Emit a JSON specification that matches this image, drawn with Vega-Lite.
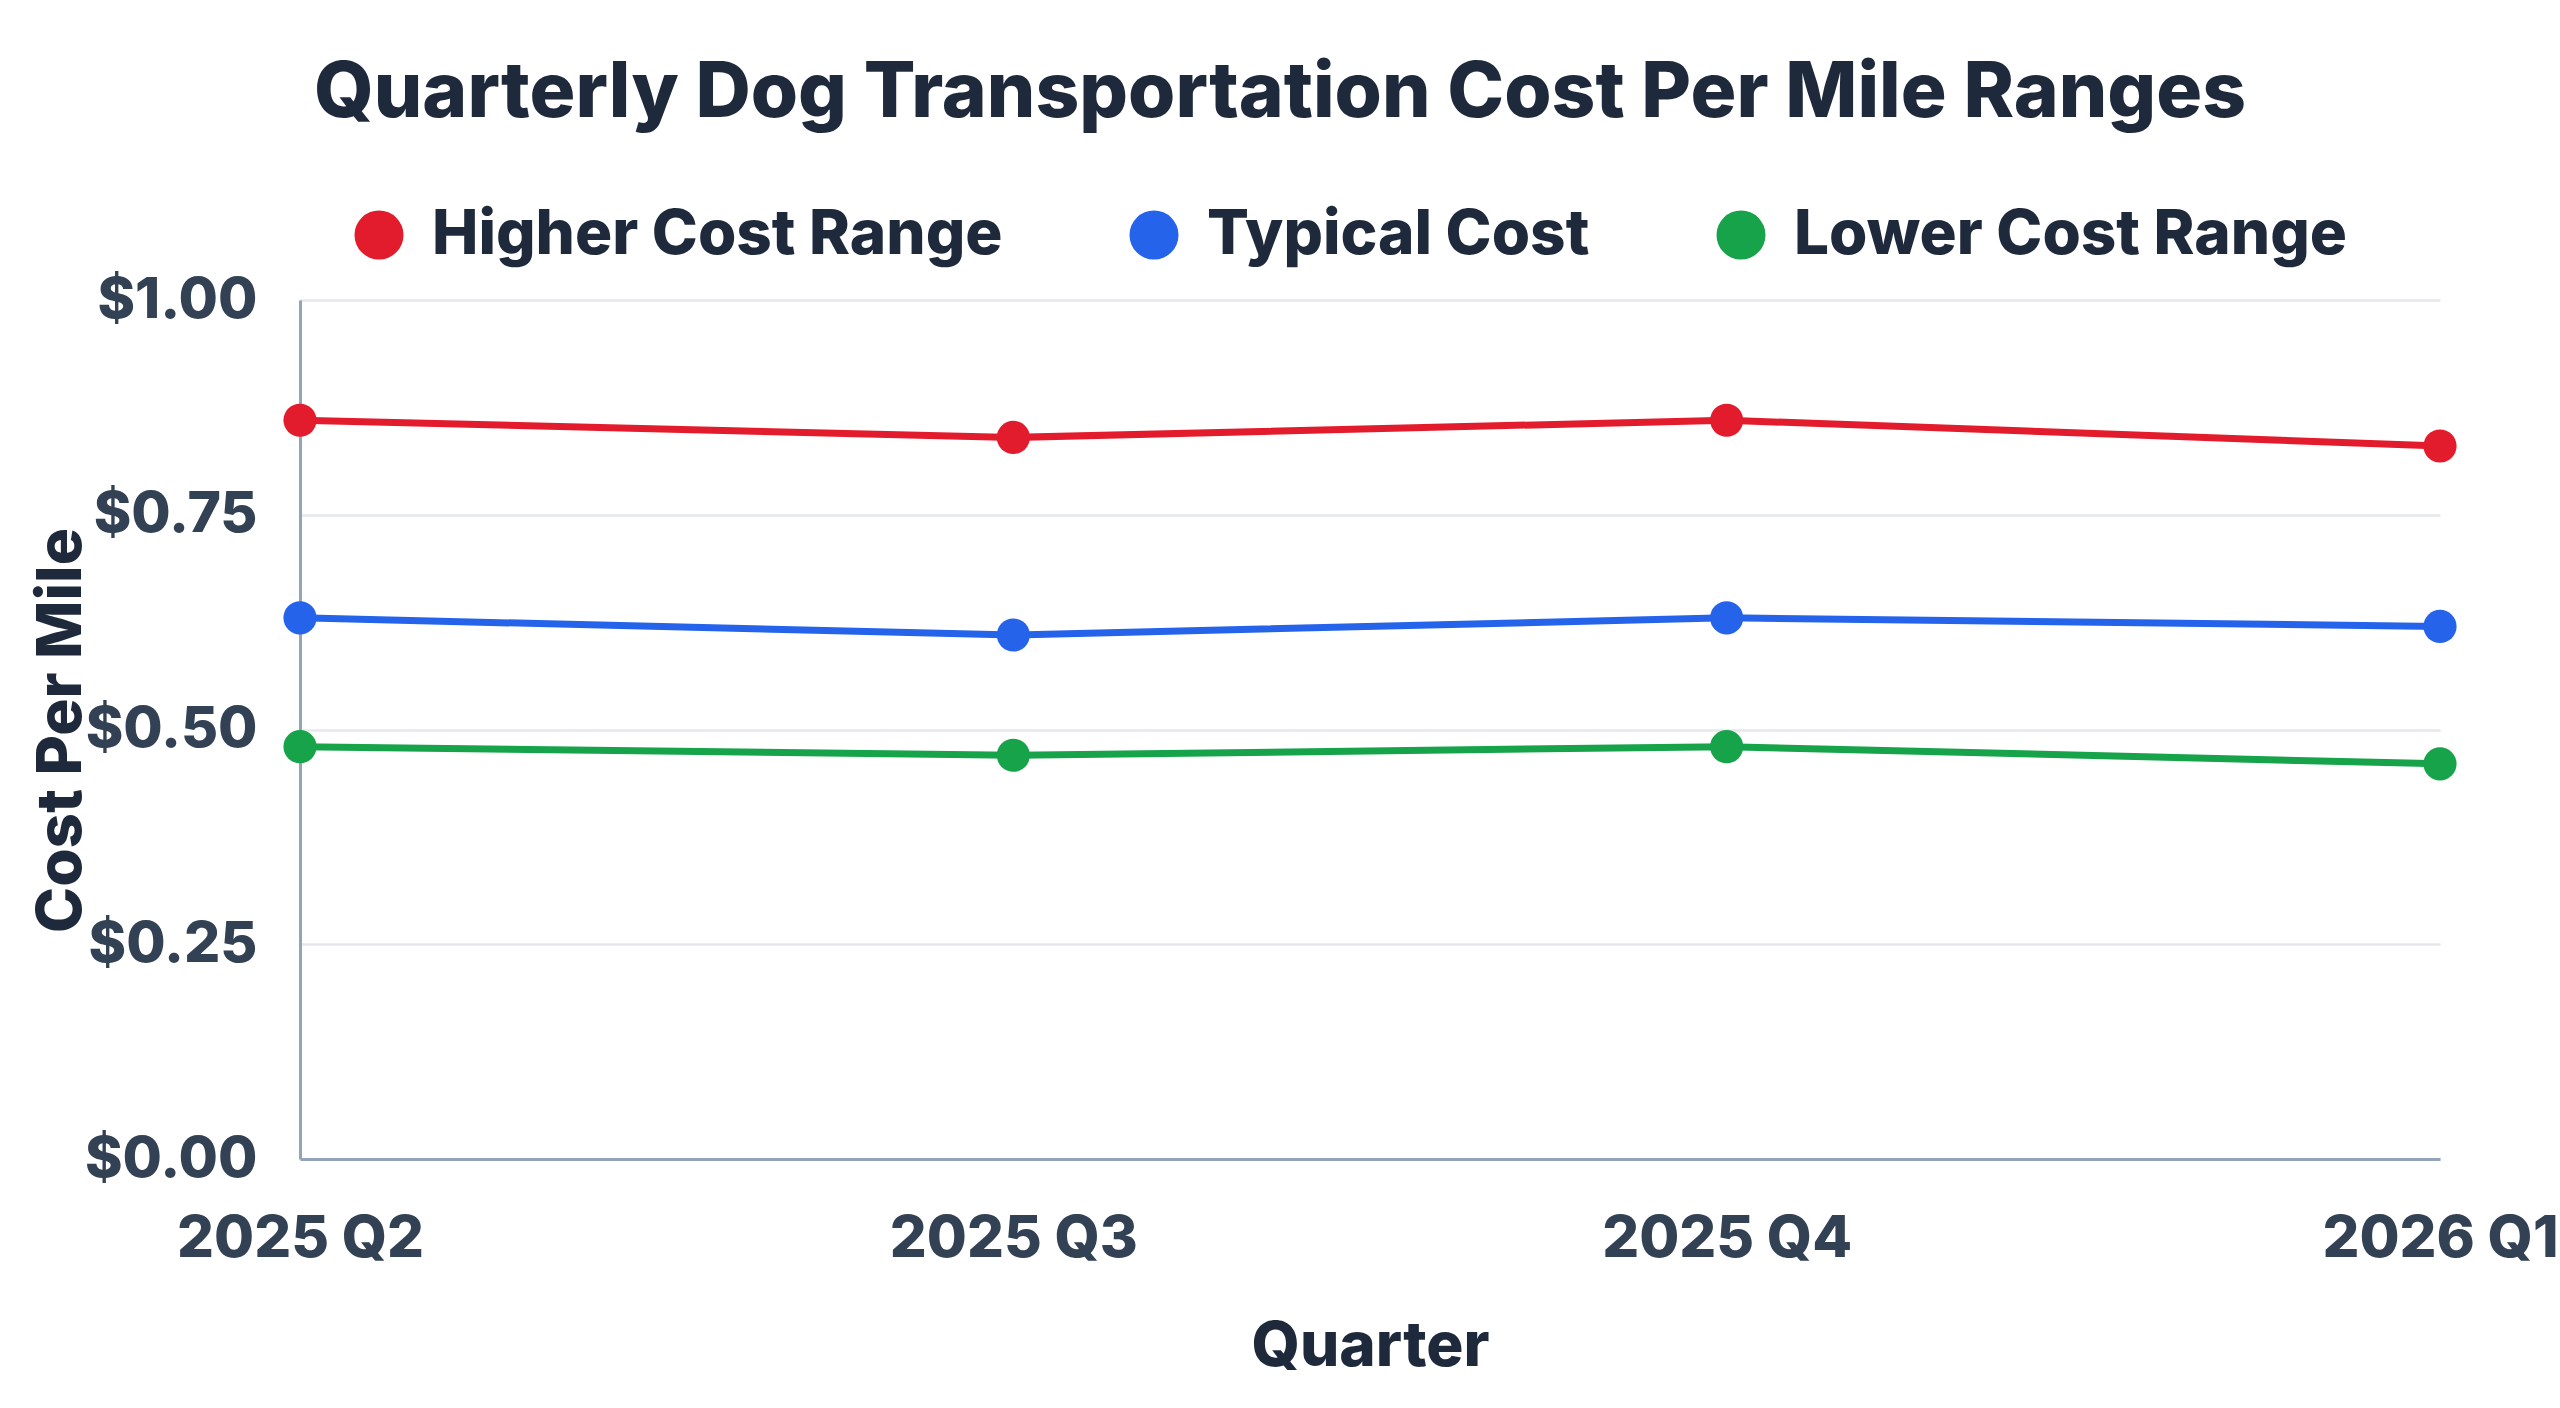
{
  "$schema": "https://vega.github.io/schema/vega-lite/v6.json",
  "width": 2140,
  "height": 859,
  "autosize": {"type": "none"},
  "padding": {"left": 300, "top": 300, "right": 120, "bottom": 249},
  "background": "white",
  "title": {
    "text": "Quarterly Dog Transportation Cost Per Mile Ranges",
    "font": "Inter",
    "fontSize": 76.5,
    "fontWeight": 800,
    "color": "#1e293b",
    "anchor": "middle",
    "dx": -90,
    "offset": 71
  },
  "data": {
    "values": [
      {"quarter": "2025 Q2", "series": "Higher Cost Range", "cost": 0.86},
      {"quarter": "2025 Q3", "series": "Higher Cost Range", "cost": 0.84},
      {"quarter": "2025 Q4", "series": "Higher Cost Range", "cost": 0.86},
      {"quarter": "2026 Q1", "series": "Higher Cost Range", "cost": 0.83},
      {"quarter": "2025 Q2", "series": "Typical Cost", "cost": 0.63},
      {"quarter": "2025 Q3", "series": "Typical Cost", "cost": 0.61},
      {"quarter": "2025 Q4", "series": "Typical Cost", "cost": 0.63},
      {"quarter": "2026 Q1", "series": "Typical Cost", "cost": 0.62},
      {"quarter": "2025 Q2", "series": "Lower Cost Range", "cost": 0.48},
      {"quarter": "2025 Q3", "series": "Lower Cost Range", "cost": 0.47},
      {"quarter": "2025 Q4", "series": "Lower Cost Range", "cost": 0.48},
      {"quarter": "2026 Q1", "series": "Lower Cost Range", "cost": 0.46}
    ]
  },
  "mark": {"type": "line", "strokeWidth": 7, "point": {"filled": true, "size": 1100, "opacity": 1}},
  "encoding": {
    "x": {
      "field": "quarter",
      "type": "ordinal",
      "scale": {"type": "point", "padding": 0},
      "axis": {
        "title": "Quarter",
        "labelAngle": 0,
        "labelFont": "Inter",
        "labelFontSize": 58,
        "labelFontWeight": 800,
        "labelColor": "#334155",
        "labelPadding": 51,
        "labelLimit": 1000,
        "labelOverlap": false,
        "ticks": false,
        "tickSize": 0,
        "domainColor": "#94a3b8",
        "domainWidth": 3,
        "grid": false,
        "titleFont": "Inter",
        "titleFontSize": 62,
        "titleFontWeight": 800,
        "titleColor": "#1e293b",
        "titlePadding": 48
      }
    },
    "y": {
      "field": "cost",
      "type": "quantitative",
      "scale": {"domain": [0, 1]},
      "axis": {
        "title": "Cost Per Mile",
        "values": [0, 0.25, 0.5, 0.75, 1],
        "format": "$.2f",
        "labelFont": "Inter",
        "labelFontSize": 57,
        "labelFontWeight": 800,
        "labelColor": "#334155",
        "labelPadding": 43,
        "ticks": false,
        "tickSize": 0,
        "domainColor": "#94a3b8",
        "domainWidth": 3,
        "gridColor": "#e5e7eb",
        "gridWidth": 2.5,
        "titleFont": "Inter",
        "titleFontSize": 62,
        "titleFontWeight": 800,
        "titleColor": "#1e293b",
        "titleX": -220,
        "titleY": 430,
        "titleBaseline": "alphabetic",
        "titleAngle": -90,
        "titleAlign": "center"
      }
    },
    "color": {
      "field": "series",
      "type": "nominal",
      "scale": {
        "domain": ["Higher Cost Range", "Typical Cost", "Lower Cost Range"],
        "range": ["#e21c2c", "#2563eb", "#16a34a"]
      },
      "legend": {
        "title": null,
        "orient": "none",
        "direction": "horizontal",
        "legendX": 48,
        "legendY": -96,
        "symbolType": "circle",
        "symbolSize": 2400,
        "symbolStrokeWidth": 0,
        "labelFont": "Inter",
        "labelFontSize": 62,
        "labelFontWeight": 800,
        "labelColor": "#1e293b",
        "labelOffset": 22,
        "columnPadding": 120,
        "labelLimit": 1000,
        "padding": 0
      }
    }
  },
  "config": {
    "view": {"stroke": null},
    "font": "Inter"
  }
}
